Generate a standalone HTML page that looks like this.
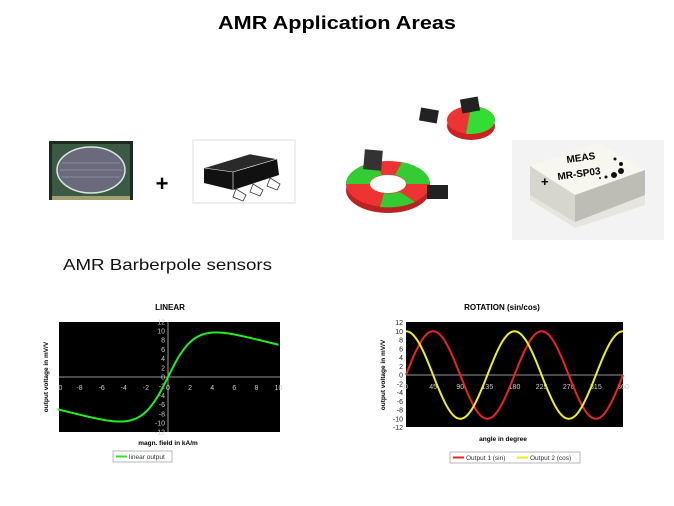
<!DOCTYPE html>
<html><head><meta charset="utf-8"><style>
html,body{margin:0;padding:0;background:#fff;width:674px;height:506px;overflow:hidden}
svg{display:block;font-family:"Liberation Sans",Arial,sans-serif}
</style></head><body>
<svg id="s" width="674" height="506" viewBox="0 0 674 506">
<text x="337" y="29" text-anchor="middle" font-size="18" font-weight="bold" textLength="238" lengthAdjust="spacingAndGlyphs">AMR Application Areas</text>
<text x="63" y="270" font-size="16" textLength="209" lengthAdjust="spacingAndGlyphs" fill="#111">AMR Barberpole sensors</text>

<!-- chip photo -->
<rect x="49" y="141" width="84" height="59" fill="#1d2b22"/>
<rect x="52" y="144" width="78" height="53" fill="#3a5a44"/>
<ellipse cx="91" cy="170" rx="34" ry="23" fill="#6a6a7c" stroke="#d8e8e0" stroke-width="1.5"/>
<g stroke="#8a8aa0" stroke-width="1"><line x1="62" y1="163" x2="120" y2="163"/><line x1="60" y1="170" x2="122" y2="170"/><line x1="62" y1="177" x2="120" y2="177"/></g>
<rect x="52" y="196" width="78" height="4" fill="#a0a070"/>

<text x="162" y="191" text-anchor="middle" font-size="22" font-weight="bold">+</text>

<!-- SOT package -->
<rect x="193" y="140" width="102" height="63" fill="#fff" stroke="#ddd"/>
<polygon points="204,168 250,154 277,159 279,175 233,190 204,183" fill="#111"/>
<polygon points="204,168 250,154 277,159 233,172" fill="#2a2a2a" stroke="#fff" stroke-width="0.6"/>
<line x1="233" y1="172" x2="233" y2="190" stroke="#fff" stroke-width="0.6"/>
<g fill="#fff" stroke="#333" stroke-width="0.8"><path d="M236,189 l-3,8 l10,4 l3,-6z"/><path d="M253,184 l-3,8 l10,4 l3,-6z"/><path d="M270,178 l-3,8 l10,4 l3,-6z"/></g>

<!-- pie -->
<ellipse cx="471" cy="126" rx="24" ry="14" fill="#c22"/>
<ellipse cx="471" cy="120" rx="24" ry="14" fill="#e33"/>
<path d="M471,106 A24,14 0 0 1 471,134 L466,134 Z" fill="#3d3"/>
<rect x="461" y="98" width="18" height="14" fill="#222" transform="rotate(-10 470 105)"/>
<rect x="420" y="109" width="18" height="13" fill="#222" transform="rotate(10 429 115)"/>
<!-- ring -->
<ellipse cx="388" cy="190" rx="42" ry="23" fill="#b22"/>
<ellipse cx="388" cy="184" rx="42" ry="23" fill="#e33"/>
<path d="M346,184 A42,23 0 0 1 375,162 L382,175 A18,9 0 0 0 370,184Z" fill="#3c3"/>
<path d="M402,162 A42,23 0 0 1 430,184 L406,184 A18,9 0 0 0 395,175Z" fill="#3c3"/>
<path d="M380,207 A42,23 0 0 0 415,202 L400,192 A18,9 0 0 1 384,193Z" fill="#3c3"/>
<ellipse cx="388" cy="184" rx="18" ry="9" fill="#fff"/>
<rect x="364" y="150" width="18" height="20" fill="#333" transform="rotate(5 373 160)"/>
<rect x="427" y="185" width="21" height="14" fill="#222"/>

<!-- MEAS module -->
<rect x="512" y="140" width="152" height="100" fill="#f3f3f3"/>
<polygon points="530,166 598,142 645,170 645,205 575,228 530,200" fill="#e6e6e0"/>
<polygon points="530,166 598,142 645,170 575,195" fill="#f7f7ef"/>
<polygon points="575,195 645,170 645,195 575,222" fill="#bdbdb5"/>
<polygon points="530,166 575,195 575,222 530,195" fill="#d6d6cc"/>
<text x="567" y="163" font-size="10" font-weight="bold" transform="rotate(-8 567 163)">MEAS</text>
<text x="558" y="180" font-size="10" font-weight="bold" transform="rotate(-8 558 180)">MR-SP03</text>
<text x="541" y="186" font-size="13" font-weight="bold">+</text>
<g fill="#111"><circle cx="614" cy="175" r="3"/><circle cx="621" cy="171" r="3"/><circle cx="621" cy="164" r="2"/><circle cx="615" cy="159" r="1.5"/><circle cx="606" cy="177" r="1.5"/><circle cx="600" cy="178" r="1"/></g>

<!-- LINEAR chart -->
<text x="170" y="310" text-anchor="middle" font-size="8" font-weight="bold">LINEAR</text>
<rect x="59" y="322" width="221" height="110" fill="#000"/>
<line x1="59" y1="377" x2="280" y2="377" stroke="#999"/>
<line x1="168" y1="322" x2="168" y2="432" stroke="#999"/>
<g id="lx" fill="#ccc" font-size="7" text-anchor="middle"></g>
<g id="ly" fill="#ccc" font-size="7" text-anchor="end"></g>
<path id="lc" fill="none" stroke="#2e2" stroke-width="2"/>
<text x="48" y="377" font-size="6.5" font-weight="bold" text-anchor="middle" transform="rotate(-90 48 377)">output voltage in mV/V</text>
<text x="168" y="445" font-size="6.5" font-weight="bold" text-anchor="middle">magn. field in kA/m</text>
<rect x="113" y="451" width="59" height="11" fill="#fff" stroke="#888" stroke-width="0.6"/>
<line x1="116" y1="456.5" x2="127" y2="456.5" stroke="#2e2" stroke-width="2"/>
<text x="129" y="459" font-size="6.5" fill="#333">linear output</text>

<!-- ROTATION chart -->
<text x="502" y="310" text-anchor="middle" font-size="8" font-weight="bold">ROTATION (sin/cos)</text>
<rect x="406" y="322" width="217" height="105" fill="#000"/>
<line x1="406" y1="375" x2="623" y2="375" stroke="#999"/>
<g id="rx" fill="#ccc" font-size="7" text-anchor="middle"></g>
<g id="ry" fill="#222" font-size="7" text-anchor="end"></g>
<path id="rr" fill="none" stroke="#e22" stroke-width="2"/>
<path id="ry2" fill="none" stroke="#ee2" stroke-width="2"/>
<text x="385" y="375" font-size="6.5" font-weight="bold" text-anchor="middle" transform="rotate(-90 385 375)">output voltage in mV/V</text>
<text x="503" y="441" font-size="6.5" font-weight="bold" text-anchor="middle">angle in degree</text>
<rect x="450" y="452" width="130" height="11" fill="#fff" stroke="#888" stroke-width="0.6"/>
<line x1="453" y1="457.5" x2="464" y2="457.5" stroke="#e22" stroke-width="2"/>
<text x="466" y="460" font-size="6.5" fill="#333">Output 1 (sin)</text>
<line x1="517" y1="457.5" x2="528" y2="457.5" stroke="#ee2" stroke-width="2"/>
<text x="530" y="460" font-size="6.5" fill="#333">Output 2 (cos)</text>
</svg>
<script>
var NS="http://www.w3.org/2000/svg";
function t(g,x,y,s){var e=document.createElementNS(NS,"text");e.setAttribute("x",x);e.setAttribute("y",y);e.textContent=s;document.getElementById(g).appendChild(e);}
var X=function(v){return 168+v*11.05},Y=function(v){return 377-v*4.6};
for(var v=-10;v<=10;v+=2){t("lx",X(v)+(v==-10?3:0),390,v==-10?"0":v);}
for(var v=-12;v<=12;v+=2){t("ly",165,Y(v)+2.5,v);}
function f(x){var s=x<0?-1:1,a=Math.abs(x);return s*(10.6*Math.tanh(a/2.2)-0.6*Math.log(1+Math.exp(a-4))+0.6*Math.log(1+Math.exp(-4)));}
var d="";for(var x=-10;x<=10.001;x+=0.1){d+=(d?"L":"M")+X(x).toFixed(1)+","+Y(f(x)).toFixed(1);}
document.getElementById("lc").setAttribute("d",d);
var RX=function(a){return 406+a*217/360},RY=function(v){return 375-v*4.375};
for(var a=0;a<=360;a+=45){t("rx",RX(a),389,a);}
for(var v=-12;v<=12;v+=2){t("ry",403,RY(v)+2.5,v);}
var d1="",d2="";for(var a=0;a<=360;a+=2){var r=a*Math.PI/180;d1+=(d1?"L":"M")+RX(a).toFixed(1)+","+RY(10*Math.sin(2*r)).toFixed(1);d2+=(d2?"L":"M")+RX(a).toFixed(1)+","+RY(10*Math.cos(2*r)).toFixed(1);}
document.getElementById("rr").setAttribute("d",d1);document.getElementById("ry2").setAttribute("d",d2);
</script>
</body></html>
